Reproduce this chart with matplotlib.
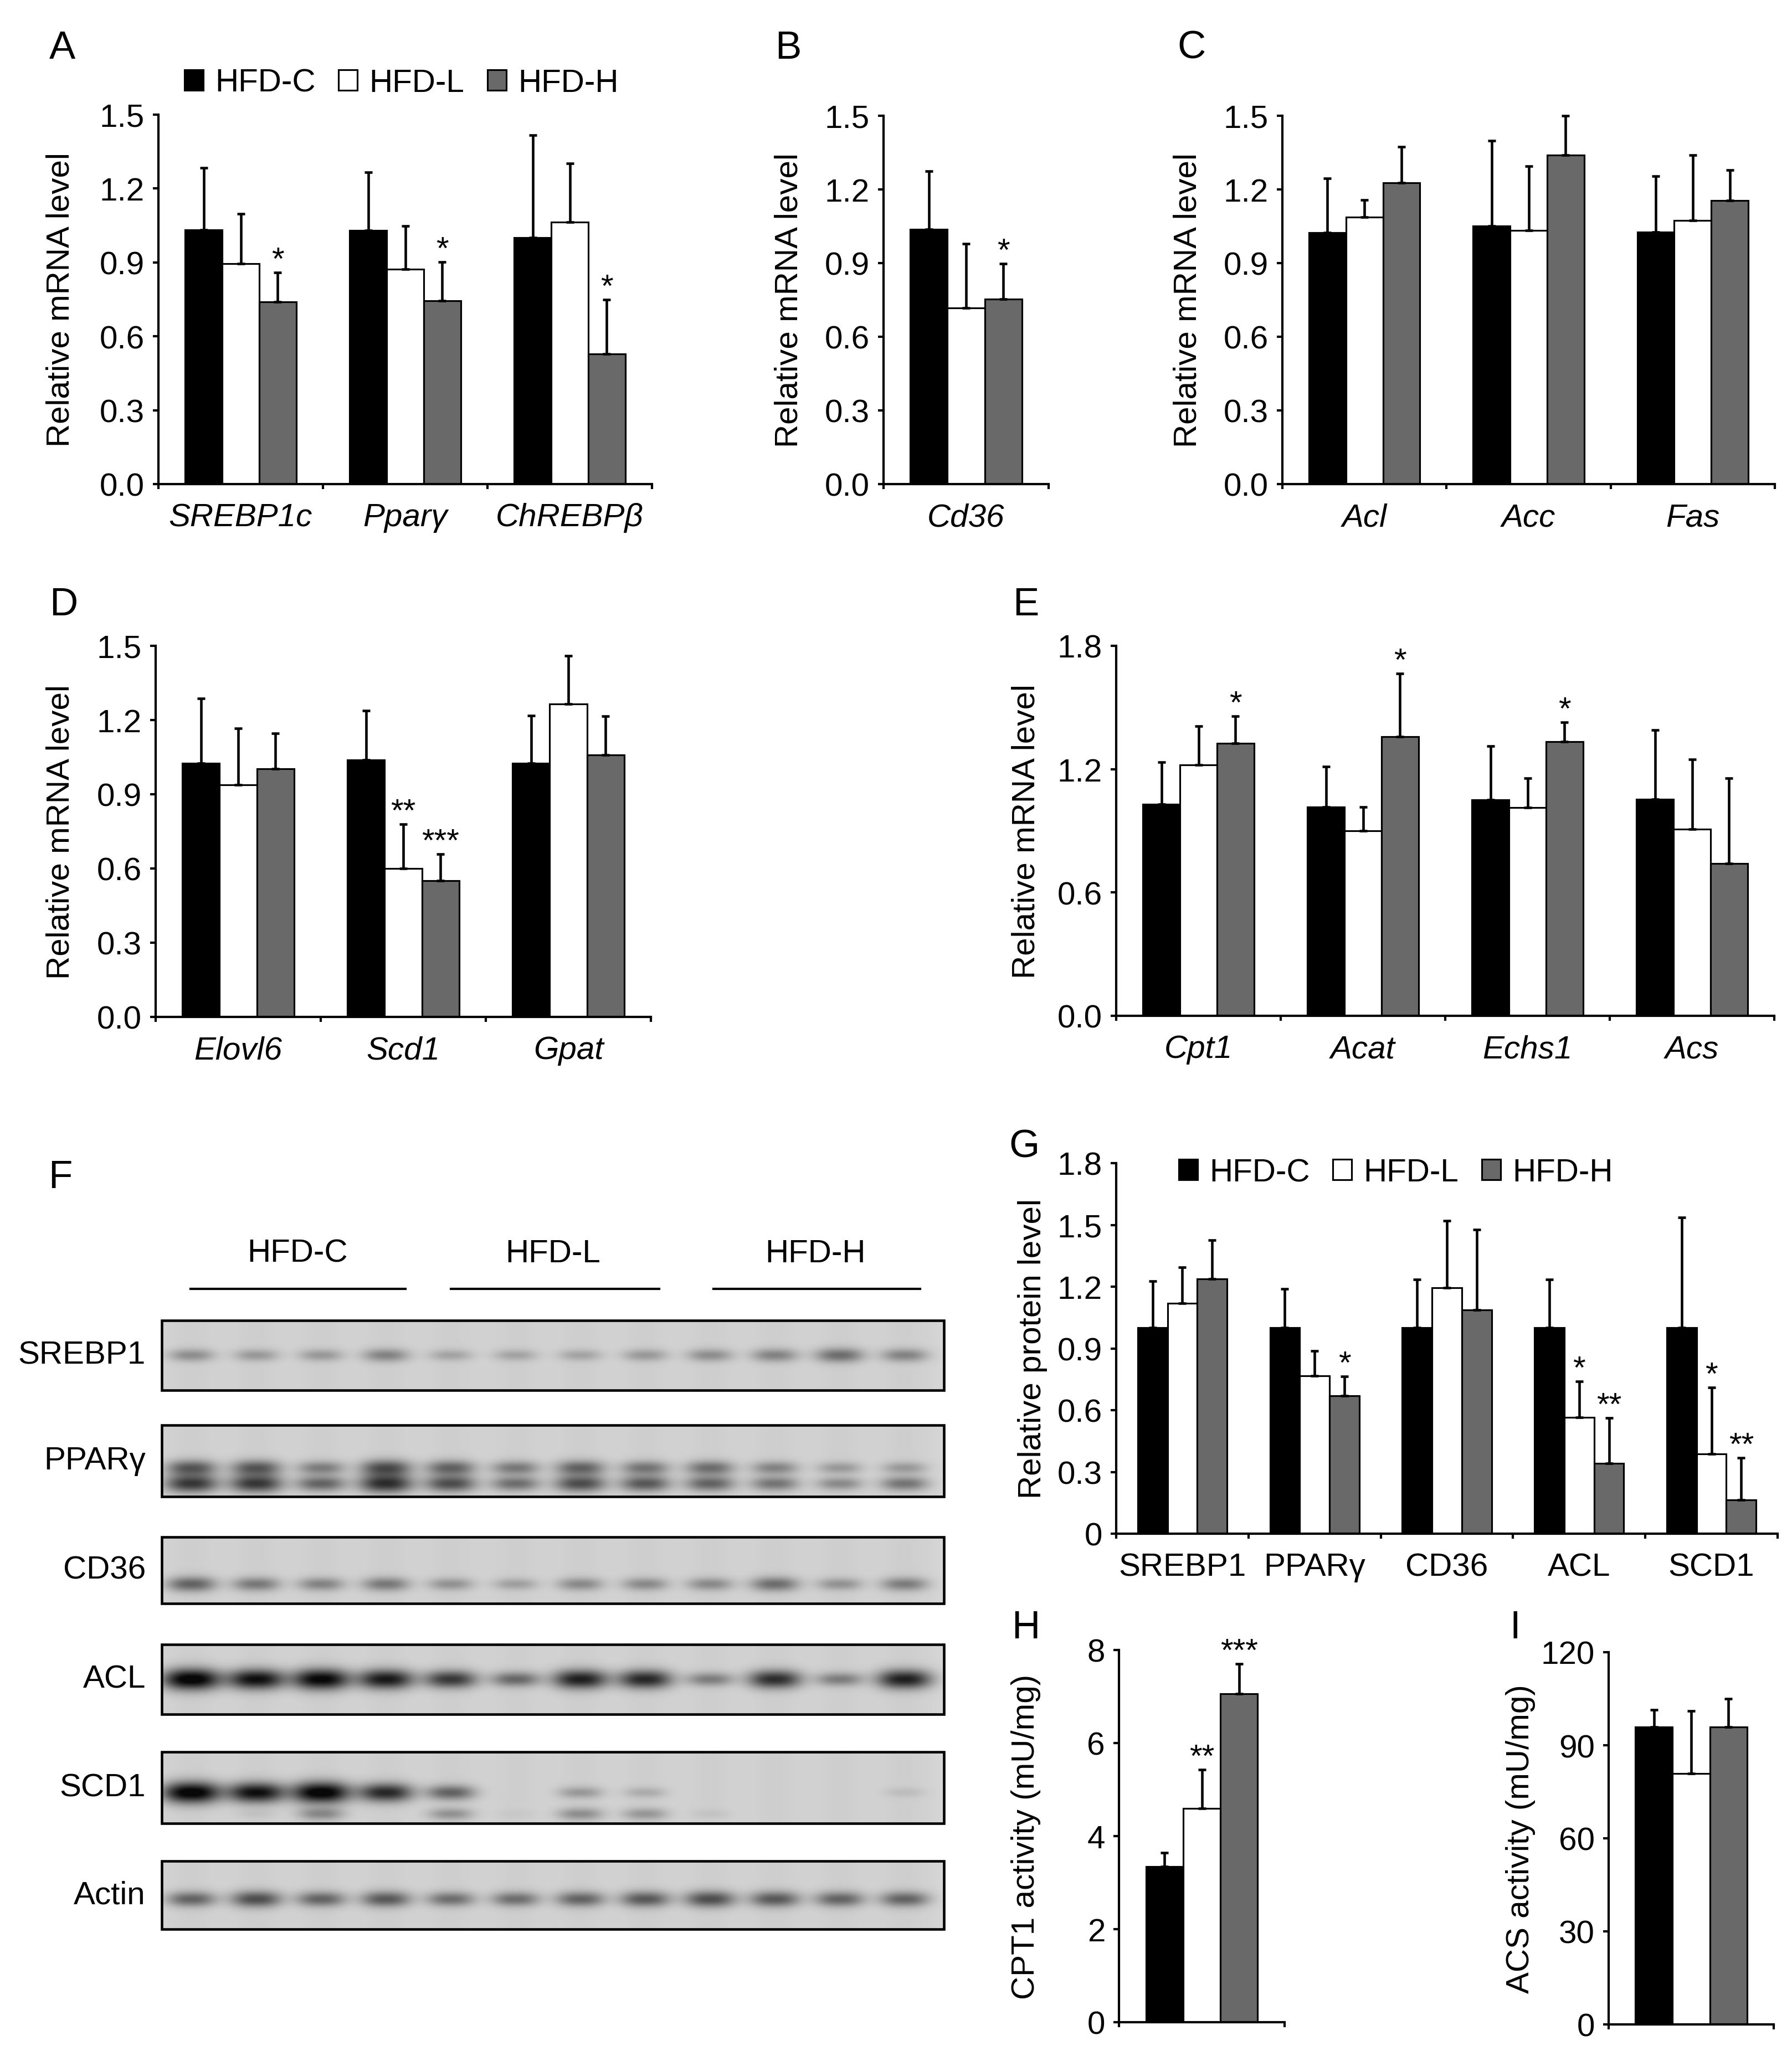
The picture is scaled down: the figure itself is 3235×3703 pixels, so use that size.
import numpy as np
import matplotlib
matplotlib.use("Agg")
import matplotlib.pyplot as plt
from matplotlib.patches import Patch, Rectangle

# ---------------- data ----------------
groups = ["HFD-C", "HFD-L", "HFD-H"]

# Panel A
a_cats = ["SREBP1c", "Pparγ", "ChREBPβ"]
a_c = [1.033, 1.031, 1.001]
a_l = [0.895, 0.873, 1.063]
a_h = [0.741, 0.744, 0.529]
a_c_sd = [0.251, 0.236, 0.416]
a_l_sd = [0.202, 0.174, 0.239]
a_h_sd = [0.119, 0.158, 0.220]
a_stars = [["", "", ""], ["", "", ""], ["*", "*", "*"]]

# Panel B
b_cats = ["Cd36"]
b_c = [1.037]
b_l = [0.718]
b_h = [0.754]
b_c_sd = [0.238]
b_l_sd = [0.262]
b_h_sd = [0.144]
b_stars = [[""], [""], ["*"]]

# Panel C
c_cats = ["Acl", "Acc", "Fas"]
c_c = [1.024, 1.052, 1.027]
c_l = [1.088, 1.032, 1.073]
c_h = [1.226, 1.340, 1.154]
c_c_sd = [0.220, 0.346, 0.228]
c_l_sd = [0.069, 0.262, 0.267]
c_h_sd = [0.147, 0.160, 0.124]
c_stars = [["", "", ""], ["", "", ""], ["", "", ""]]

# Panel D
d_cats = ["Elovl6", "Scd1", "Gpat"]
d_c = [1.026, 1.038, 1.026]
d_l = [0.937, 0.599, 1.266]
d_h = [1.002, 0.550, 1.058]
d_c_sd = [0.262, 0.201, 0.193]
d_l_sd = [0.230, 0.180, 0.194]
d_h_sd = [0.144, 0.109, 0.158]
d_stars = [["", "", ""], ["", "**", ""], ["", "***", ""]]

# Panel E
e_cats = ["Cpt1", "Acat", "Echs1", "Acs"]
e_c = [1.030, 1.017, 1.050, 1.054]
e_l = [1.220, 0.900, 1.012, 0.907]
e_h = [1.325, 1.359, 1.334, 0.741]
e_c_sd = [0.203, 0.196, 0.263, 0.337]
e_l_sd = [0.190, 0.116, 0.145, 0.340]
e_h_sd = [0.133, 0.306, 0.093, 0.415]
e_stars = [["", "", "", ""], ["", "", "", ""], ["*", "*", "*", ""]]

# Panel G
g_cats = ["SREBP1", "PPARγ", "CD36", "ACL", "SCD1"]
g_c = [1.0, 1.0, 1.0, 1.0, 1.0]
g_l = [1.120, 0.768, 1.195, 0.566, 0.388]
g_h = [1.238, 0.670, 1.086, 0.341, 0.163]
g_c_sd = [0.227, 0.188, 0.234, 0.234, 0.537]
g_l_sd = [0.173, 0.121, 0.326, 0.174, 0.323]
g_h_sd = [0.188, 0.095, 0.390, 0.222, 0.206]
g_stars = [["", "", "", "", ""], ["", "", "", "*", "*"], ["", "*", "", "**", "**"]]

# Panel H (CPT1 activity)
h_c = [3.342]
h_l = [4.593]
h_h = [7.062]
h_c_sd = [0.306]
h_l_sd = [0.834]
h_h_sd = [0.645]
h_stars = [[""], ["**"], ["***"]]

# Panel I (ACS activity)
i_c = [95.9]
i_l = [80.9]
i_h = [95.9]
i_c_sd = [5.6]
i_l_sd = [20.2]
i_h_sd = [9.1]
i_stars = [[""], [""], [""]]

# Panel F (western blot) band darkness per lane (12 lanes)
blot_names = ["SREBP1", "PPARγ", "CD36", "ACL", "SCD1", "Actin"]
srebp1_band = [0.30, 0.25, 0.25, 0.35, 0.20, 0.20, 0.20, 0.25, 0.30, 0.35, 0.45, 0.35]
pparg_upper = [0.55, 0.55, 0.38, 0.60, 0.50, 0.40, 0.50, 0.42, 0.45, 0.35, 0.25, 0.25]
pparg_lower = [0.70, 0.70, 0.50, 0.75, 0.60, 0.45, 0.60, 0.55, 0.50, 0.42, 0.32, 0.42]
cd36_band = [0.50, 0.40, 0.35, 0.40, 0.28, 0.22, 0.32, 0.32, 0.32, 0.45, 0.28, 0.38]
acl_band = [1.00, 0.90, 0.95, 0.85, 0.70, 0.48, 0.82, 0.78, 0.38, 0.75, 0.38, 0.82]
scd1_upper = [1.00, 0.90, 1.00, 0.78, 0.50, 0.00, 0.25, 0.16, 0.00, 0.00, 0.00, 0.08]
scd1_lower = [0.00, 0.05, 0.32, 0.00, 0.28, 0.03, 0.30, 0.26, 0.05, 0.00, 0.00, 0.00]
actin_band = [0.50, 0.60, 0.50, 0.55, 0.45, 0.45, 0.50, 0.55, 0.60, 0.55, 0.50, 0.50]

# ---------------- figure ----------------
W, H, DPI = 3235, 3704, 300
plt.rcParams["font.family"] = ["Liberation Sans", "DejaVu Sans"]
plt.rcParams["font.size"] = 14
plt.rcParams["axes.linewidth"] = 1.0
fig = plt.figure(figsize=(W / DPI, H / DPI), dpi=DPI)
colors = ["black", "white", "#696969"]


def add_ax(l, t, r, b):
    return fig.add_axes([l / W, 1 - b / H, (r - l) / W, (b - t) / H])


def bar_panel(ax, cats, means, sds, stars, ymax, yticks, ylabels, ylabel, ylab_x,
              italic=True, bar_w=0.225):
    n = len(means[0])
    x = np.arange(n) + 0.5
    offs = [-bar_w, 0.0, bar_w]
    for k in range(3):
        m = np.array(means[k], dtype=float)
        s = np.array(sds[k], dtype=float)
        ax.bar(x + offs[k], m, bar_w, color=colors[k], edgecolor="black",
               linewidth=0.75, zorder=2)
        cont = ax.errorbar(x + offs[k], m, yerr=[np.zeros(n), s], fmt="none",
                           ecolor="black", elinewidth=1.1, capsize=1.7,
                           capthick=1.1, zorder=3)
        for art in list(cont.lines[1]) + list(cont.lines[2]):
            art.set_clip_on(False)
        for i in range(n):
            if stars[k][i]:
                ax.annotate(stars[k][i], (x[i] + offs[k], m[i] + s[i]),
                            xytext=(0, 1.5), textcoords="offset points",
                            ha="center", va="baseline", fontsize=14,
                            annotation_clip=False)
    ax.set_xlim(0, n)
    ax.set_ylim(0, ymax)
    ax.set_yticks(yticks)
    ax.set_yticklabels(ylabels)
    ax.set_xticks(np.arange(n + 1))
    ax.set_xticklabels([])
    if cats is not None:
        ax.set_xticks(x, minor=True)
        ax.set_xticklabels(cats, minor=True, style="italic" if italic else "normal",
                           fontsize=14)
    ax.tick_params(axis="x", which="minor", length=0, pad=8)
    ax.tick_params(axis="x", which="major", length=2.2, width=1.0, direction="out")
    ax.tick_params(axis="y", length=2.4, width=1.0, pad=3.6, direction="out",
                   labelsize=14)
    for sp in ("top", "right"):
        ax.spines[sp].set_visible(False)
    y0, y1 = ax.get_position().y0, ax.get_position().y1
    ax.set_ylabel(ylabel, fontsize=14, ha="center", va="center")
    ax.yaxis.set_label_coords(ylab_x / W, (y0 + y1) / 2, transform=fig.transFigure)


def letter(s, x, y):
    fig.text(x / W, 1 - y / H, s, ha="left", va="top", fontsize=17)


mrna = "Relative mRNA level"
t15 = [0, 0.3, 0.6, 0.9, 1.2, 1.5]
l15 = ["0.0", "0.3", "0.6", "0.9", "1.2", "1.5"]

axA = add_ax(286, 208, 1177, 875)
bar_panel(axA, a_cats, [a_c, a_l, a_h], [a_c_sd, a_l_sd, a_h_sd], a_stars,
          1.5, t15, l15, mrna, 110)
axB = add_ax(1595, 210, 1893, 875)
bar_panel(axB, b_cats, [b_c, b_l, b_h], [b_c_sd, b_l_sd, b_h_sd], b_stars,
          1.5, t15, l15, mrna, 1424)
axC = add_ax(2315, 210, 3204, 875)
bar_panel(axC, c_cats, [c_c, c_l, c_h], [c_c_sd, c_l_sd, c_h_sd], c_stars,
          1.5, t15, l15, mrna, 2144)
axD = add_ax(281, 1167, 1175, 1837)
bar_panel(axD, d_cats, [d_c, d_l, d_h], [d_c_sd, d_l_sd, d_h_sd], d_stars,
          1.5, t15, l15, mrna, 110)
axE = add_ax(2015, 1167, 3203, 1835)
bar_panel(axE, e_cats, [e_c, e_l, e_h], [e_c_sd, e_l_sd, e_h_sd], e_stars,
          1.8, [0, 0.6, 1.2, 1.8], ["0.0", "0.6", "1.2", "1.8"], mrna, 1852)
axG = add_ax(2015, 2101, 3209, 2770)
bar_panel(axG, g_cats, [g_c, g_l, g_h], [g_c_sd, g_l_sd, g_h_sd], g_stars,
          1.8, [0, 0.3, 0.6, 0.9, 1.2, 1.5, 1.8],
          ["0", "0.3", "0.6", "0.9", "1.2", "1.5", "1.8"],
          "Relative protein level", 1864, italic=False)
axH = add_ax(2020, 2980, 2319, 3652)
bar_panel(axH, None, [h_c, h_l, h_h], [h_c_sd, h_l_sd, h_h_sd], h_stars,
          8, [0, 2, 4, 6, 8], ["0", "2", "4", "6", "8"],
          "CPT1 activity (mU/mg)", 1852)
axI = add_ax(2904, 2984, 3202, 3656)
bar_panel(axI, None, [i_c, i_l, i_h], [i_c_sd, i_l_sd, i_h_sd], i_stars,
          120, [0, 30, 60, 90, 120], ["0", "30", "60", "90", "120"],
          "ACS activity (mU/mg)", 2745)

# legends
handles = [Patch(facecolor=c, edgecolor="black", linewidth=0.75) for c in colors]
for (lx, ly) in [(333, 151), (2128, 2118)]:
    fig.legend(handles, groups, loc="center left",
               bbox_to_anchor=(lx / W, 1 - ly / H), ncol=3, frameon=False,
               handlelength=0.58, handleheight=0.58, handletextpad=0.36,
               columnspacing=0.72, borderpad=0, borderaxespad=0, fontsize=14)

# panel letters
for s, x, y in [("A", 89, 55), ("B", 1399, 55), ("C", 2125, 55),
                ("D", 89, 1060), ("E", 1828, 1060), ("F", 87, 2094),
                ("G", 1821, 2038), ("H", 1826, 2907), ("I", 2726, 2907)]:
    letter(s, x, y)

# ---------------- western blot (F) ----------------
axF = add_ax(0, 2000, 1800, 3704)
axF.set_xlim(0, 1800)
axF.set_ylim(3704, 2000)
axF.axis("off")

box_l, box_r = 292, 1704
box_tops = [2385, 2574, 2776, 2970, 3164, 3361]
box_bots = [2511, 2703, 2896, 3096, 3293, 3484]
lane0, lane_step = 346, 117
row_bands = [
    [(0.50, srebp1_band)],
    [(0.60, pparg_upper), (0.82, pparg_lower)],
    [(0.71, cd36_band)],
    [(0.50, acl_band)],
    [(0.57, scd1_upper), (0.87, scd1_lower)],
    [(0.56, actin_band)],
]
bg = 0.84
for name, top, bot, bands in zip(blot_names, box_tops, box_bots, row_bands):
    xs = np.arange(box_l, box_r) + 0.5
    ys = np.arange(top, bot) + 0.5
    dark = np.zeros((len(ys), len(xs)))
    for yfrac, intens in bands:
        yc = top + yfrac * (bot - top)
        for i, a in enumerate(intens):
            if a <= 0:
                continue
            cx = lane0 + i * lane_step
            wx = 36 + 16 * a
            sy = 5.5 + 8 * a
            px = np.exp(-(np.abs(xs - cx) / wx) ** 2.6)
            py = np.exp(-0.5 * ((ys - yc) / sy) ** 2)
            dark += a * np.outer(py, px)
    # faint vertical smear of each lane
    for i in range(12):
        cx = lane0 + i * lane_step
        dark += 0.04 * np.exp(-((xs - cx) / 50) ** 2)[None, :]
    img = bg * (1 - np.clip(dark, 0, 0.96))
    axF.imshow(img, cmap="gray", vmin=0, vmax=1, extent=(box_l, box_r, bot, top),
               interpolation="bilinear", aspect="auto", zorder=1)
    axF.add_patch(Rectangle((box_l, top), box_r - box_l, bot - top, fill=False,
                            edgecolor="black", linewidth=1.1, zorder=2))
    axF.text(263, (top + bot) / 2, name, ha="right", va="center", fontsize=14)

grp_centers = [537, 998, 1472]
grp_lines = [(344, 732), (814, 1190), (1288, 1661)]
for g, cx, (x0, x1) in zip(groups, grp_centers, grp_lines):
    axF.text(cx, 2264, g, ha="center", va="center", fontsize=14)
    axF.plot([x0, x1], [2328, 2328], color="black", linewidth=1.0)

fig.savefig("out.png", dpi=DPI)
